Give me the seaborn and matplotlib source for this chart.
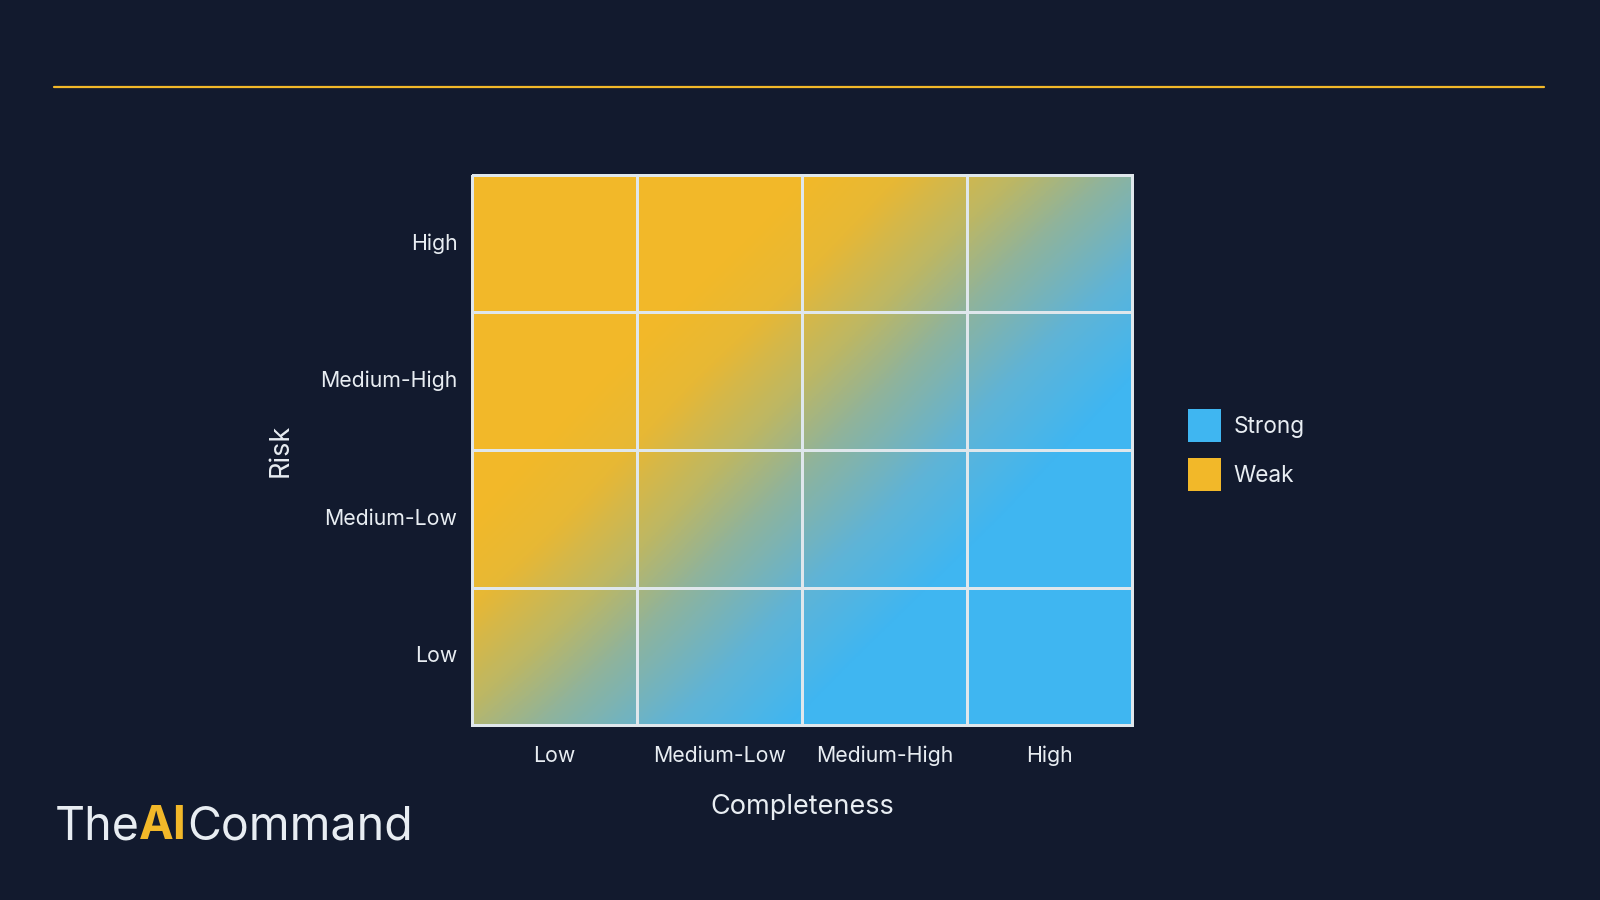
import numpy as np
import pandas as pd
import matplotlib.pyplot as plt
import seaborn as sns
from matplotlib.colors import LinearSegmentedColormap
from matplotlib.patches import Patch
from matplotlib.lines import Line2D

# Axis categories (risk rows are listed top to bottom)
completeness = ['Low', 'Medium-Low', 'Medium-High', 'High']
risk = ['High', 'Medium-High', 'Medium-Low', 'Low']

# Strength score per cell, 0 = weak, 100 = strong (one list per risk row)
score_high = [12, 26, 40, 53]
score_medium_high = [24, 38, 51, 65]
score_medium_low = [35, 49, 62, 76]
score_low = [47, 60, 74, 88]

legend_labels = ['Strong', 'Weak']

BG = '#121a2e'
YELLOW = '#f2b829'
BLUE = '#3fb6f1'
TEXT = '#e8edf2'
GRID = '#dfe7ec'

sns.set_theme(style='white')
plt.rcParams['font.family'] = ['Inter', 'DejaVu Sans']

grid = pd.DataFrame([score_high, score_medium_high, score_medium_low, score_low],
                    index=risk, columns=completeness)

# weak (yellow) -> strong (blue), with softened ends of the blend
cmap = LinearSegmentedColormap.from_list(
    'weak_strong',
    [(0, YELLOW), (0.28, YELLOW), (0.36, '#e7b835'), (0.45, '#bcb765'),
     (0.52, '#8fb39c'), (0.62, '#5fb4d7'), (0.72, BLUE), (1, BLUE)])

fig = plt.figure(figsize=(16, 9), dpi=100, facecolor=BG)
ax = fig.add_axes([0.295, 0.1944, 0.4123, 0.6112])
ax.set_facecolor(BG)

# Heatmap gives the grid, ticks and labels; the cells are then made see-through
sns.heatmap(grid, cmap=cmap, vmin=0, vmax=100, cbar=False,
            linewidths=2, linecolor=GRID, ax=ax)
mesh = ax.collections[0]
mesh.set_array(None)
mesh.set_facecolor('none')
mesh.set_clip_on(False)
mesh.set_zorder(3)

# Smooth fill underneath, blended from the same cell scores. The scores are
# mirrored one cell outwards so the blend keeps going up to the outer edge.
padded = np.pad(grid.values.astype(float), 1, mode='reflect', reflect_type='odd')
ax.imshow(padded, cmap=cmap, vmin=0, vmax=100, extent=(-1, 5, 5, -1),
          aspect='auto', interpolation='bilinear', interpolation_stage='data',
          zorder=1)
ax.set_xlim(0, 4)
ax.set_ylim(4, 0)

ax.tick_params(axis='both', length=0, labelsize=15.3, colors=TEXT)
ax.tick_params(axis='x', pad=15)
ax.tick_params(axis='y', pad=10.5)
plt.setp(ax.get_yticklabels(), rotation=0)
plt.setp(ax.get_xticklabels(), rotation=0)
for s in ax.spines.values():
    s.set_visible(False)

ax.set_xlabel('Completeness', fontsize=19.5, color=TEXT)
ax.set_ylabel('Risk', fontsize=19.5, color=TEXT)
ax.xaxis.set_label_coords(0.5, -0.1255)
ax.yaxis.set_label_coords(-0.27, 0.5)

# Legend
handles = [Patch(facecolor=BLUE, edgecolor='none'),
           Patch(facecolor=YELLOW, edgecolor='none')]
fig.legend(handles, legend_labels, loc='upper left', bbox_to_anchor=(0.7425, 0.545),
           frameon=False, fontsize=16.3, labelcolor=TEXT,
           handlelength=1.44, handleheight=1.83, handletextpad=0.575,
           labelspacing=0.71, borderpad=0, borderaxespad=0)

# Accent line at the top
fig.add_artist(Line2D([0.034, 0.965], [0.9037, 0.9037], color=YELLOW, lw=1.6,
                      transform=fig.transFigure))

# Brand mark
t1 = fig.text(0.034, 1 - 839 / 900, 'The', fontsize=33.5, color=TEXT, va='baseline')
t2 = ax.annotate('AI', xy=(1, 0), xycoords=t1, va='bottom', ha='left',
                 fontsize=33.5, fontweight='bold', color=YELLOW, annotation_clip=False)
ax.annotate('Command', xy=(1, 0), xycoords=t2, va='bottom', ha='left',
            fontsize=33.5, color=TEXT, annotation_clip=False)

fig.savefig('out.png', dpi=100, facecolor=BG)
